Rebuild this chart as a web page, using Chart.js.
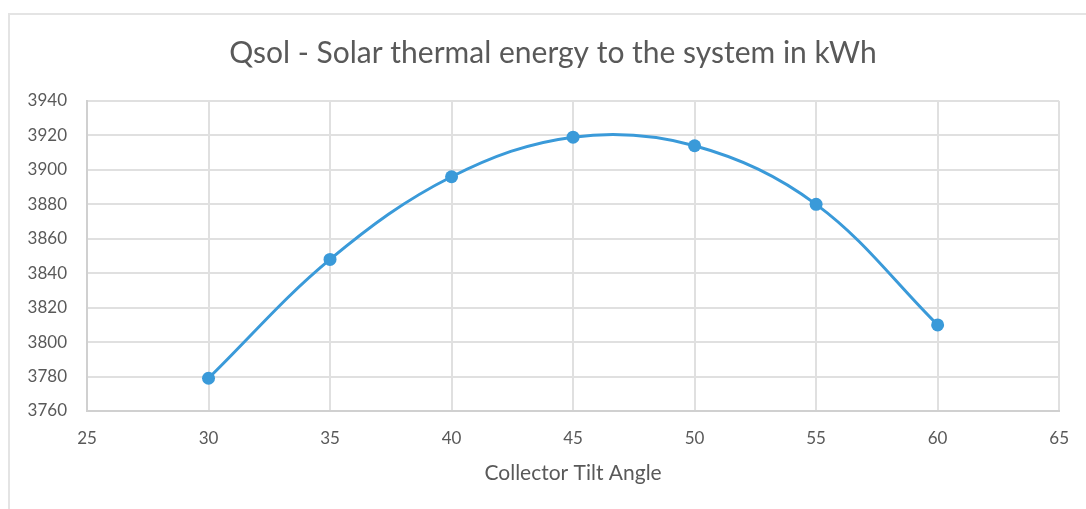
<!DOCTYPE html>
<html>
<head>
<meta charset="utf-8">
<script src="https://cdn.jsdelivr.net/npm/chart.js@4"></script>
<style>
  html, body { margin: 0; padding: 0; background: #fff; overflow: hidden; }
  #wrap { position: relative; width: 1086px; height: 509px; }
  #frame {
    position: absolute; left: 8px; top: 13px; width: 1100px; height: 600px;
    border: 2px solid #e4e4e4; box-sizing: border-box;
  }
  canvas { position: absolute; left: 0; top: 0; }
</style>
</head>
<body>
<div id="wrap">
  <div id="frame"></div>
  <canvas id="qsolChart" width="1086" height="509"></canvas>
</div>
<script>
// collector tilt angle (deg) vs solar thermal energy (kWh)
const tiltAngles = [30, 35, 40, 45, 50, 55, 60];
const qsolValues = [3779, 3848, 3896, 3919, 3914, 3880, 3810];

const xMin = 25, xMax = 65, xStep = 5;
const yMin = 3760, yMax = 3940, yStep = 20;

const textColor = "#595959";
const gridColor = "#e0e0e0";
const lineColor = "#3a9ad9";
const fontFamily = "Lato, 'Open Sans', sans-serif";

const points = tiltAngles.map((x, i) => ({ x: x, y: qsolValues[i] }));

// nudge the title box so the heading sits centred over the whole frame
const titleShift = {
  id: "titleShift",
  afterLayout(chart) {
    const t = chart.titleBlock;
    if (t) {
      t.left += 46;
      t.width = t.right - t.left;
    }
  }
};

new Chart(document.getElementById("qsolChart").getContext("2d"), {
  type: "line",
  data: {
    datasets: [{
      label: "Qsol",
      data: points,
      borderColor: lineColor,
      backgroundColor: lineColor,
      borderWidth: 3,
      pointRadius: 6.5,
      pointHoverRadius: 6.5,
      pointBorderWidth: 0,
      tension: 0.36,
      fill: false
    }]
  },
  options: {
    responsive: false,
    animation: false,
    layout: { padding: { top: 0, left: 0, right: 26, bottom: 0 } },
    plugins: {
      legend: { display: false },
      tooltip: { enabled: false },
      title: {
        display: true,
        text: "Qsol - Solar thermal energy to the system in kWh",
        color: textColor,
        font: { family: fontFamily, size: 30, weight: "normal", lineHeight: 1.2 },
        padding: { top: 35, bottom: 30 }
      }
    },
    scales: {
      x: {
        type: "linear",
        min: xMin,
        max: xMax,
        grid: { color: gridColor, lineWidth: 2, drawTicks: false },
        border: { color: "#d0d0d0", width: 2 },
        ticks: {
          stepSize: xStep,
          padding: 17,
          color: textColor,
          font: { family: fontFamily, size: 17 }
        },
        title: {
          display: true,
          text: "Collector Tilt Angle",
          color: textColor,
          font: { family: fontFamily, size: 21, lineHeight: 1.2 },
          padding: { top: 0, bottom: 23 }
        },
        afterFit: scale => { scale.height = 98; }
      },
      y: {
        min: yMin,
        max: yMax,
        grid: { color: gridColor, lineWidth: 2, drawTicks: false },
        border: { color: "#d0d0d0", width: 2 },
        ticks: {
          stepSize: yStep,
          padding: 20,
          color: textColor,
          font: { family: fontFamily, size: 17 },
          callback: v => String(v)
        },
        afterFit: scale => { scale.width = 87; }
      }
    }
  },
  plugins: [titleShift]
});
</script>
</body>
</html>
